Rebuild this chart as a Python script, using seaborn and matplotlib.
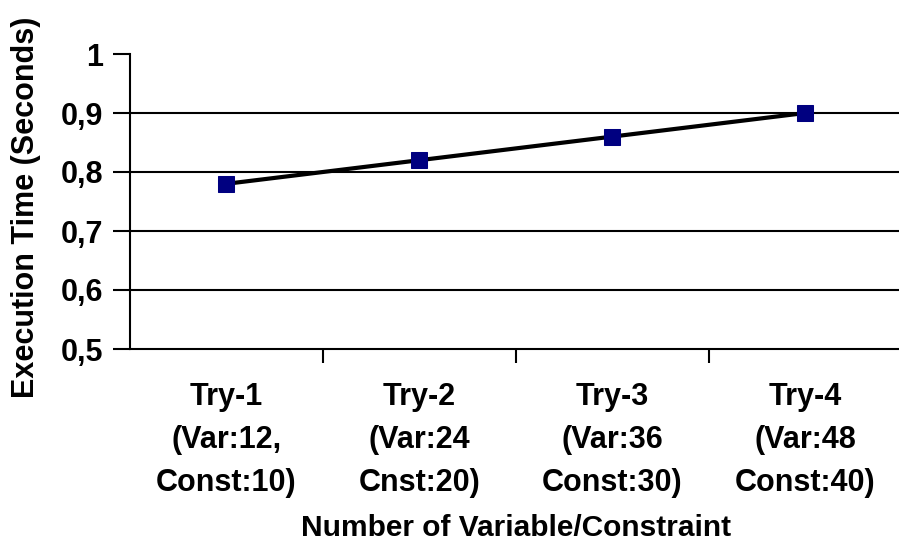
import matplotlib
matplotlib.use("Agg")
import matplotlib.pyplot as plt
import seaborn as sns
import numpy as np
import pandas as pd
from matplotlib.ticker import FixedLocator, FuncFormatter

categories = ["Try-1\n(Var:12,\nConst:10)", "Try-2\n(Var:24\nCnst:20)",
              "Try-3\n(Var:36\nConst:30)", "Try-4\n(Var:48\nConst:40)"]
exec_time = [0.78, 0.82, 0.86, 0.90]
y_ticks = [0.5, 0.6, 0.7, 0.8, 0.9, 1.0]

sns.set_style("white")
plt.rcParams['font.family'] = ['Liberation Sans', 'DejaVu Sans']
plt.rcParams['font.weight'] = 'bold'
plt.rcParams['text.color'] = 'black'
plt.rcParams['axes.labelcolor'] = 'black'
plt.rcParams['xtick.color'] = 'black'
plt.rcParams['ytick.color'] = 'black'

FS = 22

fig = plt.figure(figsize=(8.99, 5.45), dpi=100)
ax = fig.add_axes([130/899, 1-349/545, 1-130/899 + 0.003, (349-54)/545])

df = pd.DataFrame({"x": np.arange(len(categories)), "y": exec_time})
for yv in y_ticks[1:-1]:
    ax.axhline(yv, color="black", lw=1.5, zorder=1)
sns.lineplot(data=df, x="x", y="y", ax=ax, color="black", lw=3, marker="s",
             markersize=11, markerfacecolor="#000080", markeredgecolor="#000080", zorder=3)

ax.set_xlim(-0.5, len(categories) - 0.5)
ax.set_ylim(0.5, 1.0)
ax.set_yticks(y_ticks)
ax.yaxis.set_major_formatter(FuncFormatter(lambda v, p: ("%g" % v).replace(".", ",")))
ax.set_xticks(np.arange(len(categories)))
ax.set_xticklabels(categories, fontsize=FS, fontweight="bold", linespacing=1.55, va="top")
ax.xaxis.set_minor_locator(FixedLocator(np.arange(len(categories)) + 0.5))
ax.tick_params(axis="x", which="major", length=0, pad=24)
ax.tick_params(axis="x", which="minor", length=10, width=1.5, direction="out", bottom=True)
ax.tick_params(axis="y", which="major", length=12, width=1.5, direction="out", left=True, labelsize=FS, pad=7)
for lbl in ax.get_yticklabels():
    lbl.set_fontweight("bold")

for s in ["top", "right"]:
    ax.spines[s].set_visible(False)
for s in ["left", "bottom"]:
    ax.spines[s].set_color("black")
    ax.spines[s].set_linewidth(1.5)

ax.set_xlabel("Number of Variable/Constraint", fontsize=21.5, fontweight="bold", labelpad=12)
ax.set_ylabel("Execution Time (Seconds)", fontsize=FS, fontweight="bold", labelpad=14)
ax.yaxis.set_label_coords(-0.115, 0.48)

fig.savefig("out.png", dpi=100)
